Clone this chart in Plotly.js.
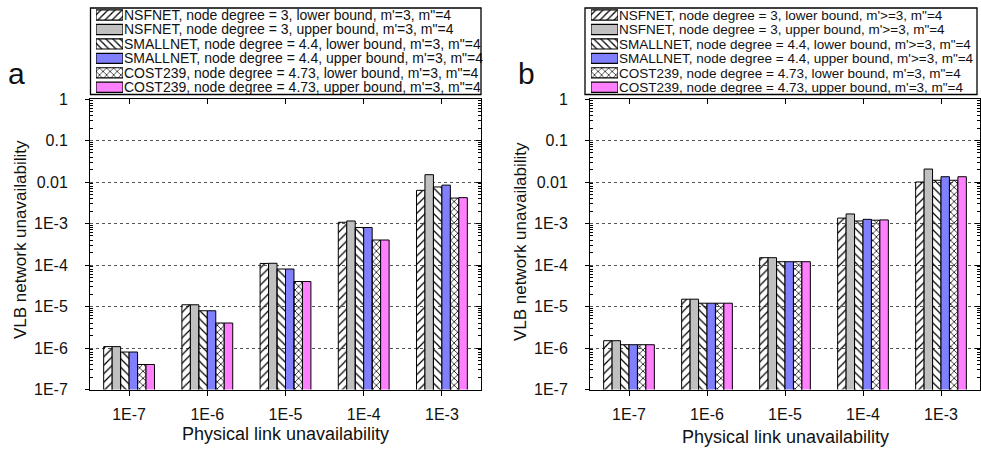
<!DOCTYPE html>
<html><head><meta charset="utf-8">
<script src="https://cdn.plot.ly/plotly-3.0.1.min.js"></script>
<style>html,body{margin:0;padding:0;background:#fff}#chart{width:981px;height:454px}</style>
</head><body><div id="chart"></div>
<script>
// ---------- data ----------
const categories = ['1E-7', '1E-6', '1E-5', '1E-4', '1E-3'];

const namesA = [
  "NSFNET, node degree = 3, lower bound, m'=3, m\"=4",
  "NSFNET, node degree = 3, upper bound, m'=3, m\"=4",
  "SMALLNET, node degree = 4.4, lower bound, m'=3, m\"=4",
  "SMALLNET, node degree = 4.4, upper bound, m'=3, m\"=4",
  "COST239, node degree = 4.73, lower bound, m'=3, m\"=4",
  "COST239, node degree = 4.73, upper bound, m'=3, m\"=4"
];
const namesB = [
  "NSFNET, node degree = 3, lower bound, m'>=3, m\"=4",
  "NSFNET, node degree = 3, upper bound, m'>=3, m\"=4",
  "SMALLNET, node degree = 4.4, lower bound, m'>=3, m\"=4",
  "SMALLNET, node degree = 4.4, upper bound, m'>=3, m\"=4",
  "COST239, node degree = 4.73, lower bound, m'=3, m\"=4",
  "COST239, node degree = 4.73, upper bound, m'=3, m\"=4"
];

// panel a
const nsfLowerA   = [1.08e-6, 1.1e-5, 1.09e-4, 1.07e-3, 6.3e-3];
const nsfUpperA   = [1.08e-6, 1.1e-5, 1.1e-4, 1.15e-3, 1.5e-2];
const smallLowerA = [8.0e-7, 7.9e-6, 8.0e-5, 8.0e-4, 7.6e-3];
const smallUpperA = [8.0e-7, 7.9e-6, 8.0e-5, 8.0e-4, 8.4e-3];
const costLowerA  = [4.0e-7, 4.0e-6, 4.0e-5, 4.0e-4, 4.1e-3];
const costUpperA  = [4.0e-7, 4.0e-6, 4.0e-5, 4.0e-4, 4.2e-3];

// panel b
const nsfLowerB   = [1.5e-6, 1.5e-5, 1.5e-4, 1.35e-3, 1.0e-2];
const nsfUpperB   = [1.5e-6, 1.5e-5, 1.5e-4, 1.7e-3, 2.05e-2];
const smallLowerB = [1.2e-6, 1.2e-5, 1.2e-4, 1.15e-3, 1.1e-2];
const smallUpperB = [1.2e-6, 1.2e-5, 1.2e-4, 1.26e-3, 1.34e-2];
const costLowerB  = [1.2e-6, 1.2e-5, 1.2e-4, 1.2e-3, 1.1e-2];
const costUpperB  = [1.2e-6, 1.2e-5, 1.2e-4, 1.22e-3, 1.34e-2];

const yTickVals = [1e-7, 1e-6, 1e-5, 1e-4, 1e-3, 1e-2, 1e-1, 1];
const yTickText = ['1E-7', '1E-6', '1E-5', '1E-4', '1E-3', '0.01', '0.1', '1'];

// ---------- styling ----------
const W = 981, H = 454;
const px = v => v / W, py = v => 1 - v / H;
const FONT = '"Liberation Sans", Arial, sans-serif';
const TXT = '#111';

const fillColors = ['#ffffff', '#c0c0c0', '#ffffff', '#8080ff', '#ffffff', '#ff80ff'];
const patternShapes = ['/', '', '\\', '', 'x', ''];
const patternSizes = [6, 6, 6, 6, 5, 5];
const patternSolid = [0.2, 0.2, 0.2, 0.2, 0.28, 0.28];

const minorVals = [];
for (let d = -7; d < 0; d++) for (let k = 2; k <= 9; k++) minorVals.push(k * Math.pow(10, d));

const seriesA = [nsfLowerA, nsfUpperA, smallLowerA, smallUpperA, costLowerA, costUpperA];
const seriesB = [nsfLowerB, nsfUpperB, smallLowerB, smallUpperB, costLowerB, costUpperB];

const traces = [];
function addPanel(series, names, xa, ya, xo, yo, xl, yl) {
  series.forEach((vals, i) => {
    traces.push({
      type: 'bar', x: categories, y: vals, name: names[i],
      xaxis: xa, yaxis: ya, showlegend: false,
      marker: {
        color: fillColors[i],
        line: {color: '#000', width: 1},
        pattern: {shape: patternShapes[i], fgcolor: '#000', size: patternSizes[i], solidity: patternSolid[i]}
      }
    });
  });
  // overlay axes for top/right ticks
  traces.push({type: 'scatter', mode: 'markers', x: categories, y: categories.map(() => null),
    xaxis: xo, yaxis: yo, showlegend: false, hoverinfo: 'skip'});
  // legend swatches (one per series)
  names.forEach((nm, i) => {
    traces.push({
      type: 'bar', orientation: 'h', y: [nm], x: [1], base: 0, width: 0.7, offsetgroup: 'leg',
      xaxis: xl, yaxis: yl, showlegend: false, hoverinfo: 'skip',
      marker: {color: fillColors[i], line: {color: '#000', width: 1.2},
        pattern: {shape: patternShapes[i], fgcolor: '#000', size: 5, solidity: 0.25}}
    });
  });
}
addPanel(seriesA, namesA, 'x', 'y', 'x2', 'y2', 'x3', 'y3');
addPanel(seriesB, namesB, 'x4', 'y4', 'x5', 'y5', 'x6', 'y6');

const plotTop = 99, plotBot = 389.5;
function mainX(x0, x1, anchor) {
  return {type: 'category', domain: [px(x0), px(x1)], anchor, range: [-0.5, 4.5],
    categoryorder: 'array', categoryarray: categories,
    ticks: 'outside', ticklen: 5, tickcolor: '#000', showline: true, linecolor: '#000', linewidth: 1,
    ticklabelstandoff: 5,
    showgrid: false, zeroline: false, tickfont: {family: FONT, size: 16, color: TXT}};
}
function mainY(anchor) {
  return {type: 'log', domain: [py(plotBot), py(plotTop)], anchor, range: [-7, 0],
    tickmode: 'array', tickvals: yTickVals, ticktext: yTickText,
    ticks: 'outside', ticklen: 4, tickcolor: '#000', showline: true, linecolor: '#000', linewidth: 1,
    ticklabelstandoff: 14,
    showgrid: true, gridcolor: '#555', griddash: 'dot', gridwidth: 1, zeroline: false,
    tickfont: {family: FONT, size: 16, color: TXT},
    minor: {tickmode: 'array', tickvals: minorVals, ticks: 'inside', ticklen: 3, tickcolor: '#000', showgrid: false}};
}
function overX(over, anchor) {
  return {type: 'category', overlaying: over, anchor, side: 'top', range: [-0.5, 4.5],
    categoryorder: 'array', categoryarray: categories,
    ticks: 'inside', ticklen: 5, tickcolor: '#000', showticklabels: false,
    showline: true, linecolor: '#000', linewidth: 1, showgrid: false, zeroline: false};
}
function overY(over, anchor) {
  return {type: 'log', overlaying: over, anchor, side: 'right', range: [-7, 0],
    tickmode: 'array', tickvals: yTickVals, ticks: 'inside', ticklen: 5, tickcolor: '#000',
    showticklabels: false, showline: true, linecolor: '#000', linewidth: 1, showgrid: false, zeroline: false,
    minor: {tickmode: 'array', tickvals: minorVals, ticks: 'inside', ticklen: 3, tickcolor: '#000', showgrid: false}};
}
function legX(x0, x1, anchor) {
  return {domain: [px(x0), px(x1)], anchor, range: [0, 1], visible: false, fixedrange: true};
}
function legY(names, anchor, size) {
  return {type: 'category', domain: [py(94.5), py(7.8)], anchor, side: 'right',
    categoryorder: 'array', categoryarray: names, autorange: 'reversed',
    tickmode: 'array', tickvals: names, ticktext: names,
    ticks: '', showline: false, showgrid: false, zeroline: false,
    tickfont: {family: FONT, size, color: TXT}};
}

function note(text, x, y, size, angle) {
  return {text, xref: 'paper', yref: 'paper', x: px(x), y: py(y), xanchor: 'center', yanchor: 'middle',
    textangle: angle || 0, showarrow: false, font: {family: FONT, size, color: TXT}};
}

const layout = {
  width: W, height: H, margin: {l: 0, r: 0, t: 0, b: 0},
  paper_bgcolor: '#fff', plot_bgcolor: 'rgba(0,0,0,0)',
  font: {family: FONT, color: TXT},
  barmode: 'group', bargap: 0.35, bargroupgap: 0, showlegend: false,
  xaxis: mainX(90, 481, 'y'), yaxis: mainY('x'),
  xaxis2: overX('x', 'y2'), yaxis2: overY('y', 'x2'),
  xaxis3: legX(96, 123, 'y3'), yaxis3: legY(namesA, 'x3', 14),
  xaxis4: mainX(590, 980, 'y4'), yaxis4: mainY('x4'),
  xaxis5: overX('x4', 'y5'), yaxis5: overY('y4', 'x5'),
  xaxis6: legX(591, 618, 'y6'), yaxis6: legY(namesB, 'x6', 13.5),
  shapes: [
    {type: 'rect', xref: 'paper', yref: 'paper', x0: px(90.5), x1: px(481), y0: py(94.5), y1: py(8), line: {color: '#000', width: 1.3}, fillcolor: 'rgba(0,0,0,0)'},
    {type: 'rect', xref: 'paper', yref: 'paper', x0: px(585), x1: px(977), y0: py(94.5), y1: py(8), line: {color: '#000', width: 1.3}, fillcolor: 'rgba(0,0,0,0)'}
  ],
  annotations: [
    note('a', 16, 73, 30),
    note('b', 526, 73, 30),
    note('VLB network unavailability', 20, 240, 17, -90),
    note('VLB network unavailability', 520, 242, 17, -90),
    note('Physical link unavailability', 285, 434, 18),
    note('Physical link unavailability', 785, 437, 18)
  ]
};

Plotly.newPlot('chart', traces, layout, {displayModeBar: false, staticPlot: true});
</script>
</body></html>
